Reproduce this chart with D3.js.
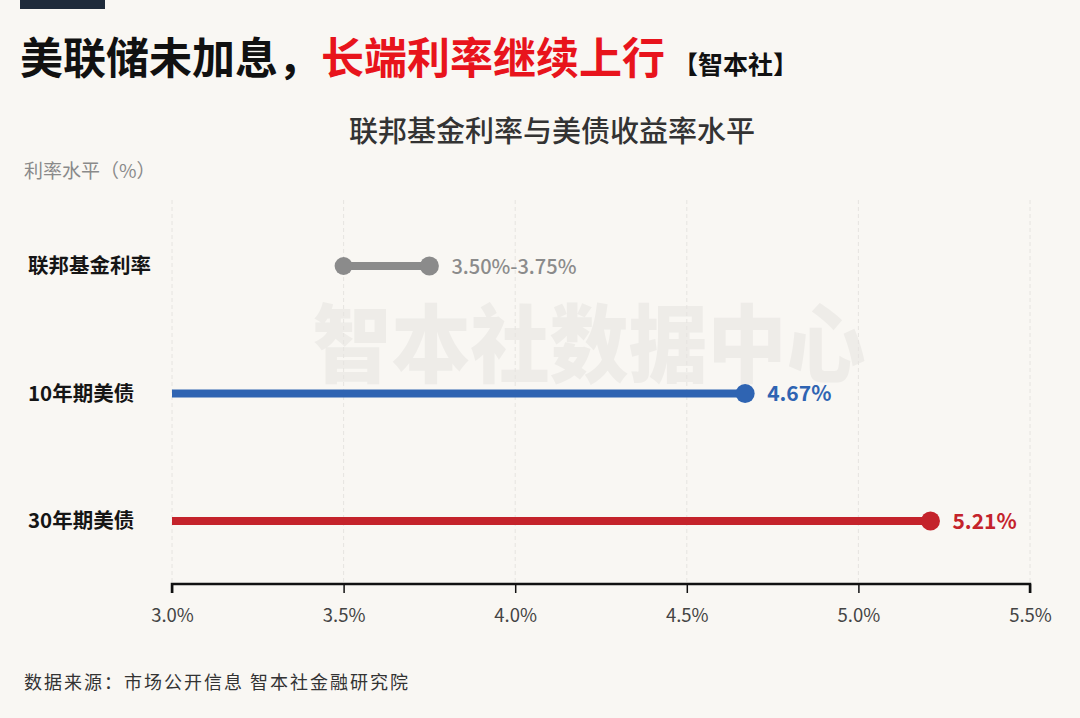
<!DOCTYPE html>
<html>
<head>
<meta charset="utf-8">
<script src="https://cdn.jsdelivr.net/npm/d3@7"></script>
<style>
  html, body { margin: 0; padding: 0; background: #f9f7f3; }
  body { --font-family: "Noto Sans CJK SC", "Noto Sans", sans-serif; }
  svg { display: block; }
</style>
</head>
<body>
<div class="chart"></div>
<script>
const categories = ["联邦基金利率", "10年期美债", "30年期美债"];
const startValues = [3.50, 3.00, 3.00];
const endValues = [3.75, 4.67, 5.21];
const valueLabels = ["3.50%-3.75%", "4.67%", "5.21%"];
const tickValues = [3.0, 3.5, 4.0, 4.5, 5.0, 5.5];

const fontFamily = getComputedStyle(document.body).getPropertyValue("--font-family");
const colors = ["#8b8b8b", "#2f64b2", "#c4232b"];
const W = 1080;
const H = 718;

function setup() {
    const svg = d3.select(".chart")
        .append("svg")
        .attr("width", W)
        .attr("height", H)
        .style("font-family", fontFamily);
    svg.append("rect")
        .attr("width", W)
        .attr("height", H)
        .attr("fill", "#f9f7f3");
    // dark tab in the corner
    svg.append("rect")
        .attr("x", 20).attr("y", 0)
        .attr("width", 85).attr("height", 9)
        .attr("fill", "#1f2b3b");
    return svg;
}

function main() {
    const svg = setup();

    const x = d3.scaleLinear().domain([3.0, 5.5]).range([172, 1030]);
    const y = d3.scalePoint().domain(categories).range([266, 521]);
    const axisY = 584;

    // title
    const title = svg.append("text")
        .attr("x", 20).attr("y", 74)
        .attr("font-weight", 700)
        .attr("font-size", 43);
    title.append("tspan").attr("fill", "#111").text("美联储未加息，");
    title.append("tspan").attr("fill", "#e8141c").text("长端利率继续上行");
    title.append("tspan").attr("fill", "#111").attr("font-size", 25).attr("dx", 8).text("【智本社】");

    svg.append("text")
        .attr("x", 552).attr("y", 142)
        .attr("text-anchor", "middle")
        .attr("font-size", 29)
        .attr("font-weight", 500)
        .attr("fill", "#333")
        .text("联邦基金利率与美债收益率水平");

    svg.append("text")
        .attr("x", 24).attr("y", 178)
        .attr("font-size", 19)
        .attr("fill", "#8a8a8a")
        .text("利率水平（%）");

    // watermark
    svg.append("text")
        .attr("transform", "translate(589,376) scale(1,1.08)")
        .attr("text-anchor", "middle")
        .attr("font-size", 79)
        .attr("font-weight", 900)
        .attr("fill", "#eeece8")
        .text("智本社数据中心");

    // gridlines
    svg.append("g")
        .selectAll("line")
        .data(tickValues)
        .enter()
        .append("line")
        .attr("x1", d => x(d)).attr("x2", d => x(d))
        .attr("y1", 200).attr("y2", axisY)
        .attr("stroke", "#e6e4e0")
        .attr("stroke-width", 1)
        .attr("stroke-dasharray", "4,3");

    // axis
    const axis = svg.append("g")
        .attr("transform", `translate(0,${axisY})`)
        .call(d3.axisBottom(x)
            .tickValues(tickValues)
            .tickSize(9)
            .tickPadding(16)
            .tickFormat(d => d3.format(".1f")(d) + "%"));
    axis.select(".domain")
        .attr("stroke", "#111")
        .attr("stroke-width", 2.5)
        .attr("d", `M${x(3.0)},9V0H${x(5.5)}V9`);
    axis.selectAll(".tick line").attr("stroke", "#111").attr("stroke-width", 1.5);
    axis.selectAll(".tick text")
        .attr("font-size", 18.5)
        .attr("fill", "#444")
        .style("font-family", fontFamily);

    // category labels
    svg.append("g")
        .selectAll("text")
        .data(categories)
        .enter()
        .append("text")
        .attr("x", 28)
        .attr("y", d => y(d) + 7)
        .attr("font-size", 20.5)
        .attr("font-weight", 700)
        .attr("fill", "#151515")
        .text(d => d);

    const rows = categories.map((c, i) => ({ c, s: startValues[i], e: endValues[i], i }));

    // bars as thick lines
    svg.append("g")
        .selectAll("line")
        .data(rows)
        .enter()
        .append("line")
        .attr("x1", d => x(d.s)).attr("x2", d => x(d.e))
        .attr("y1", d => y(d.c)).attr("y2", d => y(d.c))
        .attr("stroke", d => colors[d.i])
        .attr("stroke-width", 8);

    // start dot only for the range row
    svg.append("g")
        .selectAll("circle")
        .data(rows.filter(d => d.i === 0))
        .enter()
        .append("circle")
        .attr("cx", d => x(d.s)).attr("cy", d => y(d.c))
        .attr("r", 9)
        .attr("fill", d => colors[d.i]);

    svg.append("g")
        .selectAll("circle")
        .data(rows)
        .enter()
        .append("circle")
        .attr("cx", d => x(d.e)).attr("cy", d => y(d.c))
        .attr("r", 9.5)
        .attr("fill", d => colors[d.i]);

    svg.append("g")
        .selectAll("text")
        .data(rows)
        .enter()
        .append("text")
        .attr("x", d => x(d.e) + 22)
        .attr("y", d => y(d.c) + 7.5)
        .attr("font-size", d => d.i === 0 ? 20 : 21)
        .attr("font-weight", d => d.i === 0 ? 500 : 700)
        .attr("fill", d => colors[d.i])
        .text(d => valueLabels[d.i]);

    // footer
    svg.append("text")
        .attr("x", 24).attr("y", 689)
        .attr("font-size", 18)
        .attr("letter-spacing", 2)
        .attr("fill", "#333")
        .text("数据来源：市场公开信息 智本社金融研究院");
}

main();
</script>
</body>
</html>
